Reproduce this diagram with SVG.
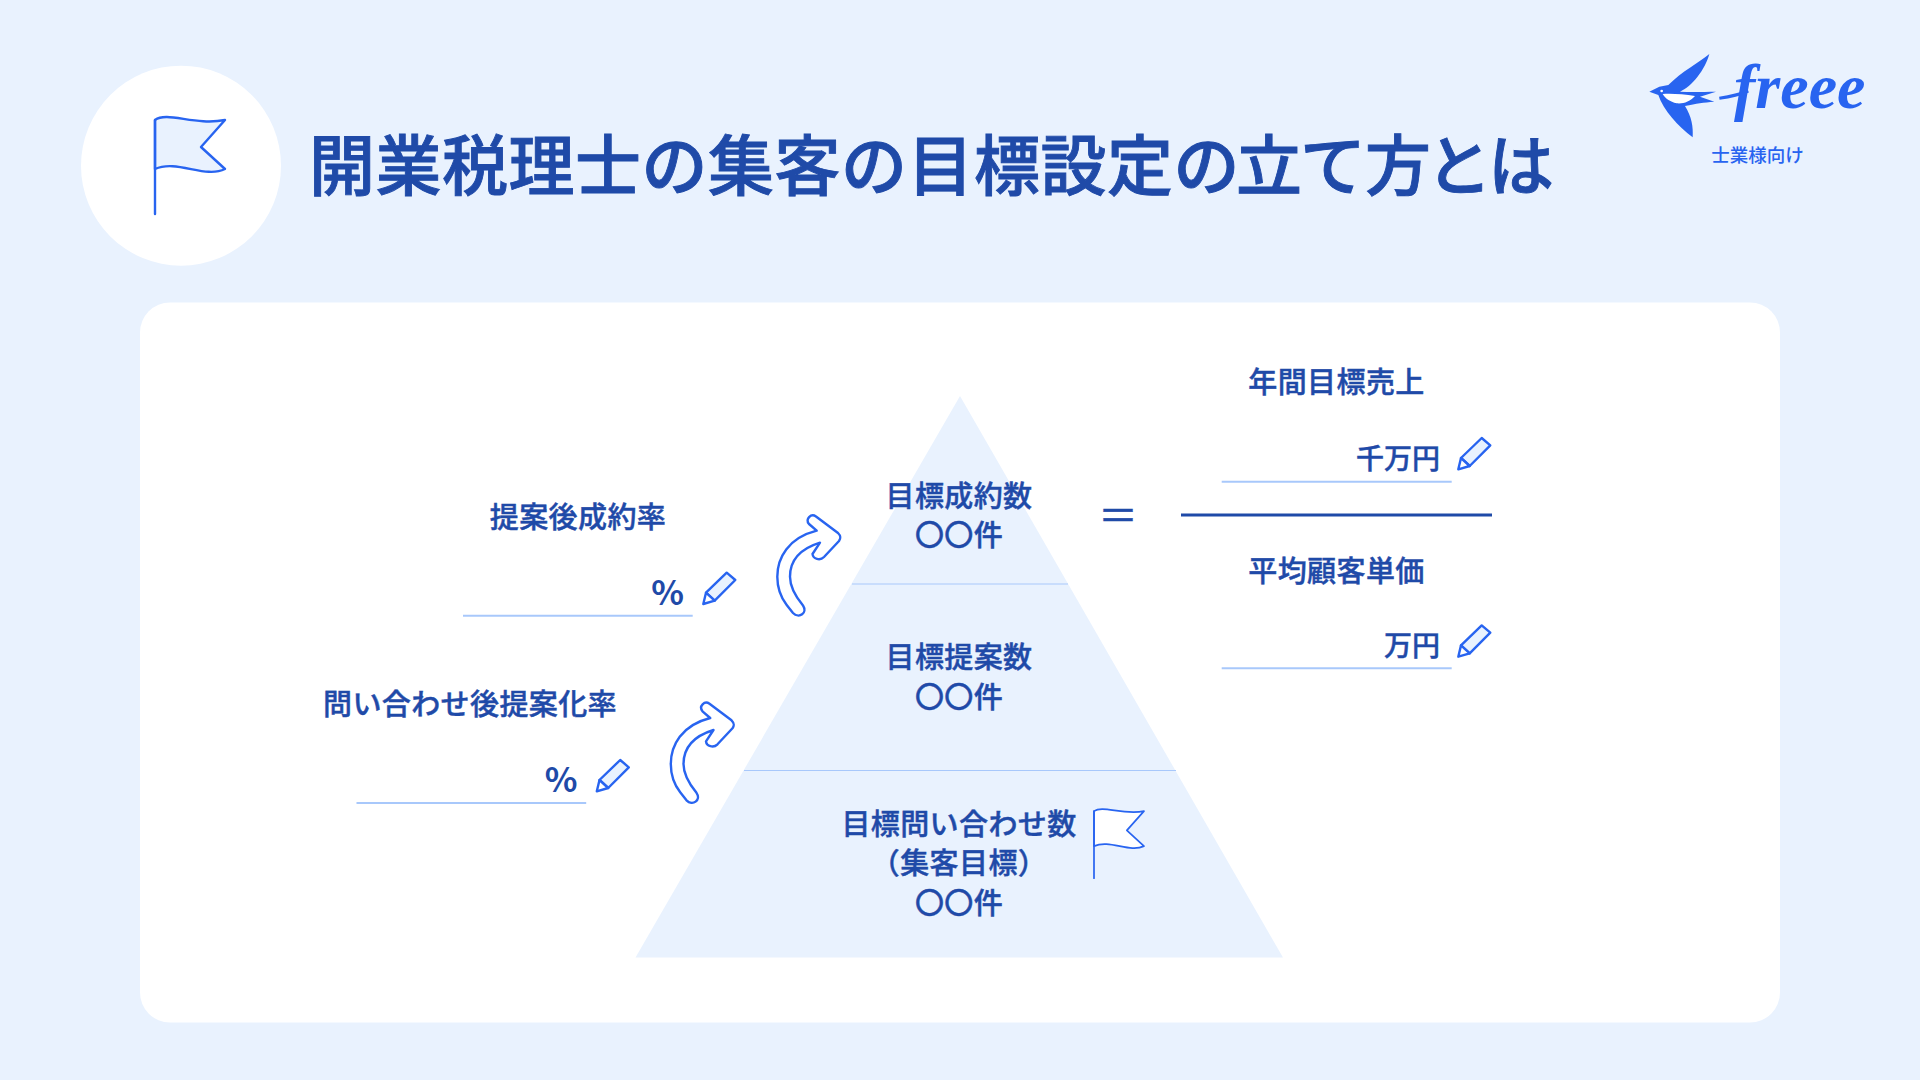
<svg xmlns="http://www.w3.org/2000/svg" width="1920" height="1080" viewBox="0 0 1920 1080">
<style>
text{font-family:"Noto Sans CJK JP","Noto Sans",sans-serif;fill:#1F4AA8;font-weight:500}
.l{font-size:29px;letter-spacing:.4px;text-anchor:middle;stroke:#1F4AA8;stroke-width:.45px}
.r{font-size:28px;text-anchor:end;stroke:#1F4AA8;stroke-width:.45px}
.p{font-size:34px;text-anchor:end;font-weight:700}
.u{fill:none;stroke:#A8C8FB;stroke-width:2}
.ic{stroke:#2864F0;stroke-width:2.400;stroke-linejoin:round;stroke-linecap:round}
</style>
<defs>
<g id="flag">
<path class="ic" d="M0 3C12 -6 40 9 70 3L46 30L70 52C50 62 22 42 0 52Z"/>
<path class="ic" fill="none" d="M0 3V97"/>
</g>
<g id="pencil">
<path class="ic" fill="#E9F2FE" d="M2.700 -11.300L23.400 -31.300L32 -24L11.400 -3.300Z"/>
<path class="ic" fill="#fff" d="M2.700 -11.300L0 0L11.400 -3.300Z"/>
</g>
<path id="arrow" class="ic" fill="#fff" d="M786.700 605C779 595 777.300 586 777.300 576.700C777.300 558 788 538 816.700 530.700L809 524C805 519 811 513 816 516.500L838 533C841 536 841 538 839 541L824 557C820 561 813 559 812.500 554L820 542.700C803 548 790 558 790 576.700C790 586 796 597 803 605.500C808 613 799 619 793 613Z"/>
</defs>
<rect width="1920" height="1080" fill="#E9F2FE"/>
<g id="header">
<circle cx="181" cy="165.700" r="100" fill="#fff"/>
<use href="#flag" x="155" y="117" fill="#E9F2FE"/>
<text y="190" style="font-size:66px;stroke:#1F4AA8;stroke-width:.9px" x="309 375.500 442 508.500 575 641.500 708 774.500 841 907.500 974 1040.500 1107 1173.500 1236 1300 1365 1426 1488">開業税理士の集客の目標設定の立て方とは</text>
</g>
<g id="logo">
<g transform="translate(1620 30) scale(.33333)">
<path fill="#2864F0" d="M88 185L118 170L145 165C185 125 240 95 268 72C255 120 215 170 180 185C220 188 255 185 288 185L240 200L283 215C250 218 230 220 195 228C215 260 220 290 218 322C175 290 130 240 115 195Z"/>
<path fill="#fff" d="M128 192C150 190 190 192 225 198C210 215 190 222 170 220C150 215 135 205 128 192Z"/>
<circle cx="125" cy="183" r="4" fill="#fff"/>
<path d="M298 205C330 200 355 195 385 183" fill="none" stroke="#2864F0" stroke-width="9"/>
</g>
<text x="1734" y="108" style="font-family:'Liberation Serif',serif;font-style:italic;font-weight:700;font-size:64px;fill:#2864F0">freee</text>
<text x="1757.500" y="162" style="font-size:18.500px;fill:#2864F0;text-anchor:middle">士業様向け</text>
</g>
<rect id="panel" x="140" y="302.500" width="1640" height="720" rx="30" fill="#fff"/>
<g id="pyramid">
<path d="M960 396L1283 957.500H635.500Z" fill="#E9F2FE"/>
<path d="M852 584H1068M744 770.500H1176" fill="none" stroke="#A8C8FB" stroke-width="1"/>
<text class="l" x="959" y="506.500">目標成約数</text>
<text class="l" x="959" y="546">〇〇件</text>
<text class="l" x="959" y="668">目標提案数</text>
<text class="l" x="959" y="708">〇〇件</text>
<text class="l" x="959" y="835">目標問い合わせ数</text>
<text class="l" x="959" y="874">（集客目標）</text>
<text class="l" x="959" y="914">〇〇件</text>
<use href="#flag" transform="translate(1094 809) scale(.714)" fill="#fff"/>
</g>
<g id="connectors">
<use href="#arrow"/>
<use href="#arrow" x="-106.500" y="187.300"/>
</g>
<g id="close-rate">
<text class="l" x="578" y="528">提案後成約率</text>
<path class="u" d="M463 615.700H692.700"/>
<text class="p" x="684" y="605">%</text>
<use href="#pencil" x="703.300" y="604"/>
</g>
<g id="proposal-rate">
<text class="l" x="470" y="715">問い合わせ後提案化率</text>
<path class="u" d="M356.500 803H586.200"/>
<text class="p" x="577.500" y="792">%</text>
<use href="#pencil" x="596.800" y="791.300"/>
</g>
<g id="sales-target">
<text class="l" x="1336.500" y="393">年間目標売上</text>
<text class="r" x="1440" y="469">千万円</text>
<path class="u" d="M1221.700 481.700H1451.700"/>
<use href="#pencil" x="1458.300" y="469.300"/>
</g>
<path id="fraction-line" d="M1181 515H1492" stroke="#1F4AA8" stroke-width="3"/>
<text x="1118" y="530" style="font-size:40px;text-anchor:middle;font-weight:400;stroke:#1F4AA8;stroke-width:.4px">＝</text>
<g id="unit-price">
<text class="l" x="1336.500" y="581.500">平均顧客単価</text>
<text class="r" x="1440" y="656">万円</text>
<path class="u" d="M1221.700 668.300H1451.700"/>
<use href="#pencil" x="1458.300" y="656.700"/>
</g>
</svg>
